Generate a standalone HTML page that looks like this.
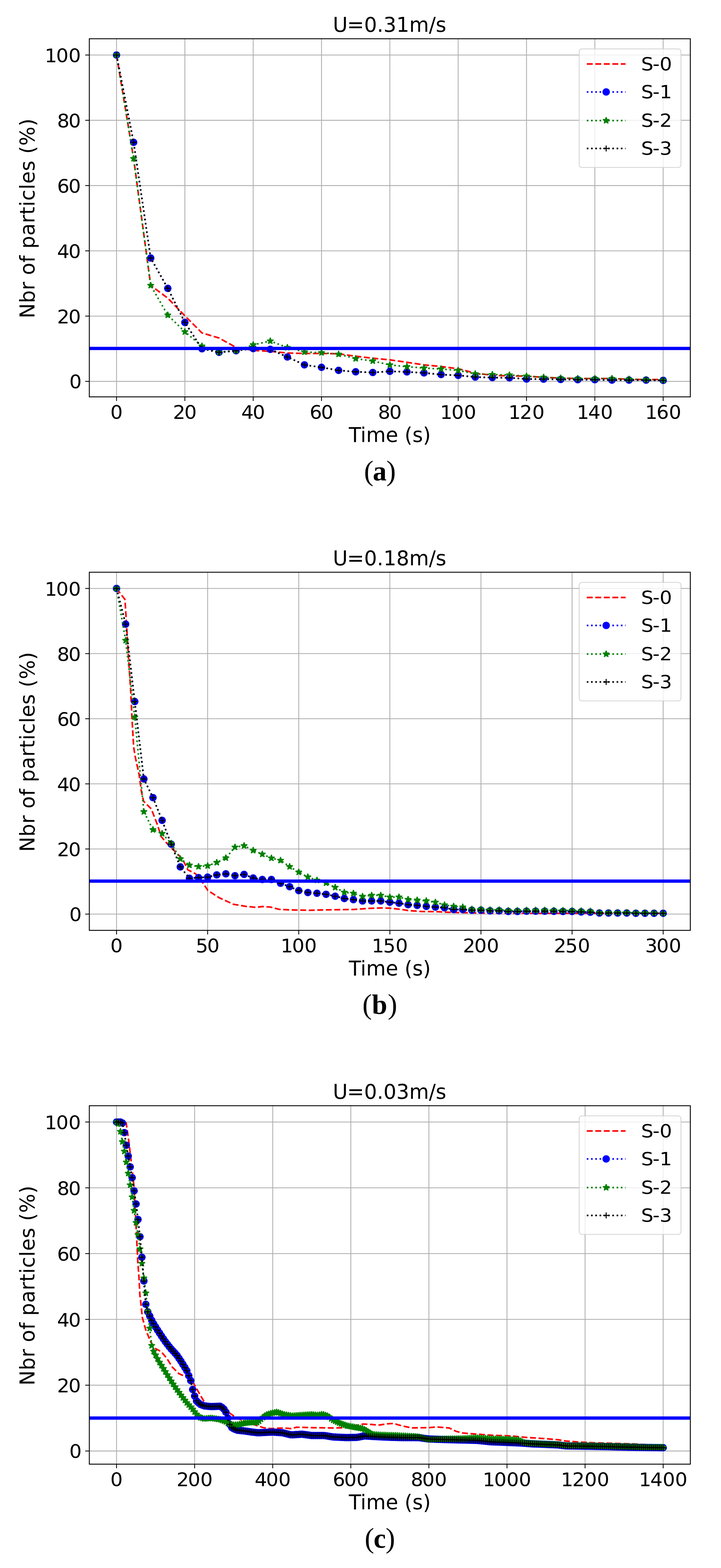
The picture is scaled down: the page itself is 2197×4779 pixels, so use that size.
<!DOCTYPE html>
<html lang="en"><head><meta charset="utf-8"><title>Number of particles versus time</title>
<style>
html,body{margin:0;padding:0;background:#fff;}
body{width:2197px;height:4779px;overflow:hidden;}
svg{display:block;}
text{font-family:"DejaVu Sans","Liberation Sans",sans-serif;fill:#000;}
.tk{font-size:59.3px;}
.lb{font-size:61.4px;}
.tt{font-size:61.7px;}
.lg{font-size:59.3px;}
.cap{font-family:"Liberation Serif","DejaVu Serif",serif;font-size:86.7px;}
.cap .b{font-weight:bold;font-size:84px;}
.grid line{stroke:#b0b0b0;stroke-width:2.6;}
.ticks line{stroke:#000;stroke-width:2.5;}
.spine{fill:none;stroke:#000;stroke-width:2.7;stroke-linejoin:miter;}
.ln{fill:none;stroke-width:4.9;stroke-linejoin:round;}
.dash{stroke-dasharray:18.13 7.84;}
.dot{stroke-dasharray:4.9 8.085;}
.s0{stroke:#ff0000;}.s1{stroke:#0000ff;}.s2{stroke:#008000;}.s3{stroke:#000;}
.m1{fill:#0000ff;}
.m2{fill:#008000;stroke:#008000;stroke-width:3;stroke-linejoin:bevel;}
.m3{stroke:#000;stroke-width:3.1;fill:none;}
.k1{marker:url(#mc);}.k2{marker:url(#ms);}.k3{marker:url(#mp);}
.j1{marker-mid:url(#mc);}.j2{marker-mid:url(#ms);}.j3{marker-mid:url(#mp);}
.hl{stroke:#0000ff;stroke-width:10;}
.legbox{fill:#fff;fill-opacity:0.8;stroke:#ccc;stroke-opacity:0.8;stroke-width:2.6;}
</style></head><body>
<svg width="2197" height="4779" viewBox="0 0 2197 4779" role="img" aria-label="Number of particles versus time for three velocities">
<rect x="0" y="0" width="2197" height="4779" fill="#fff"/>
<defs>
<marker id="mc" markerUnits="userSpaceOnUse" markerWidth="40" markerHeight="40" refX="20" refY="20" viewBox="0 0 40 40" orient="0" overflow="visible"><circle cx="20" cy="20" r="11.3" class="m1"/></marker>
<marker id="ms" markerUnits="userSpaceOnUse" markerWidth="40" markerHeight="40" refX="20" refY="20" viewBox="0 0 40 40" orient="0" overflow="visible"><polygon points="20,9.8 22.29,16.848 29.701,16.848 23.705,21.204 25.995,28.252 20,23.896 14.005,28.252 16.295,21.204 10.299,16.848 17.71,16.848" class="m2"/></marker>
<marker id="mp" markerUnits="userSpaceOnUse" markerWidth="40" markerHeight="40" refX="20" refY="20" viewBox="0 0 40 40" orient="0" overflow="visible"><path d="M10.9 20H29.1M20 10.9V29.1" class="m3"/></marker>
</defs>
<g class="fig" id="fig-a">
<clipPath id="clip0"><rect x="272.15" y="118.1" width="1831.35" height="1091.5"/></clipPath>
<g class="grid">
<line x1="355.1" y1="118.1" x2="355.1" y2="1209.6"/>
<line x1="563.312" y1="118.1" x2="563.312" y2="1209.6"/>
<line x1="771.525" y1="118.1" x2="771.525" y2="1209.6"/>
<line x1="979.737" y1="118.1" x2="979.737" y2="1209.6"/>
<line x1="1187.95" y1="118.1" x2="1187.95" y2="1209.6"/>
<line x1="1396.162" y1="118.1" x2="1396.162" y2="1209.6"/>
<line x1="1604.375" y1="118.1" x2="1604.375" y2="1209.6"/>
<line x1="1812.588" y1="118.1" x2="1812.588" y2="1209.6"/>
<line x1="2020.8" y1="118.1" x2="2020.8" y2="1209.6"/>
<line x1="272.15" y1="1162.4" x2="2103.5" y2="1162.4"/>
<line x1="272.15" y1="963.46" x2="2103.5" y2="963.46"/>
<line x1="272.15" y1="764.52" x2="2103.5" y2="764.52"/>
<line x1="272.15" y1="565.58" x2="2103.5" y2="565.58"/>
<line x1="272.15" y1="366.64" x2="2103.5" y2="366.64"/>
<line x1="272.15" y1="167.7" x2="2103.5" y2="167.7"/>
</g>
<g class="ticks">
<line x1="355.1" y1="1209.6" x2="355.1" y2="1222.1"/>
<line x1="563.312" y1="1209.6" x2="563.312" y2="1222.1"/>
<line x1="771.525" y1="1209.6" x2="771.525" y2="1222.1"/>
<line x1="979.737" y1="1209.6" x2="979.737" y2="1222.1"/>
<line x1="1187.95" y1="1209.6" x2="1187.95" y2="1222.1"/>
<line x1="1396.162" y1="1209.6" x2="1396.162" y2="1222.1"/>
<line x1="1604.375" y1="1209.6" x2="1604.375" y2="1222.1"/>
<line x1="1812.588" y1="1209.6" x2="1812.588" y2="1222.1"/>
<line x1="2020.8" y1="1209.6" x2="2020.8" y2="1222.1"/>
<line x1="259.65" y1="1162.4" x2="272.15" y2="1162.4"/>
<line x1="259.65" y1="963.46" x2="272.15" y2="963.46"/>
<line x1="259.65" y1="764.52" x2="272.15" y2="764.52"/>
<line x1="259.65" y1="565.58" x2="272.15" y2="565.58"/>
<line x1="259.65" y1="366.64" x2="272.15" y2="366.64"/>
<line x1="259.65" y1="167.7" x2="272.15" y2="167.7"/>
</g>
<g class="tk" text-anchor="middle">
<text transform="translate(355.1 1276.7) scale(1 0.955)">0</text>
<text dx="0 -3" transform="translate(563.312 1276.7) scale(1 0.955)">20</text>
<text dx="0 -3" transform="translate(771.525 1276.7) scale(1 0.955)">40</text>
<text dx="0 -3" transform="translate(979.737 1276.7) scale(1 0.955)">60</text>
<text dx="0 -3" transform="translate(1187.95 1276.7) scale(1 0.955)">80</text>
<text dx="0 -3" transform="translate(1396.162 1276.7) scale(1 0.955)">100</text>
<text dx="0 -3" transform="translate(1604.375 1276.7) scale(1 0.955)">120</text>
<text dx="0 -3" transform="translate(1812.588 1276.7) scale(1 0.955)">140</text>
<text dx="0 -3" transform="translate(2020.8 1276.7) scale(1 0.955)">160</text>
</g>
<g class="tk" text-anchor="end">
<text transform="translate(249.1 1184) scale(1 0.955)">0</text>
<text dx="0 -3" transform="translate(246.4 986.06) scale(1 0.955)">20</text>
<text dx="0 -3" transform="translate(246.4 787.12) scale(1 0.955)">40</text>
<text dx="0 -3" transform="translate(246.4 588.18) scale(1 0.955)">60</text>
<text dx="0 -3" transform="translate(246.4 389.24) scale(1 0.955)">80</text>
<text dx="0 -3" transform="translate(246.4 190.3) scale(1 0.955)">100</text>
</g>
<g clip-path="url(#clip0)">
<polyline class="ln dash s0" points="355.1,167.7 407.153,483.02 459.206,869.958 511.259,908.752 563.312,962.465 615.366,1014.687 667.419,1030.105 719.472,1058.951 771.525,1067.904 823.578,1070.888 875.631,1075.861 927.684,1077.353 979.737,1077.353 1031.791,1078.248 1083.844,1085.808 1135.897,1091.776 1187.95,1096.75 1240.003,1104.21 1292.056,1112.068 1344.109,1117.141 1396.162,1123.905 1448.216,1137.533 1500.269,1143.7 1552.322,1145.789 1604.375,1146.485 1656.428,1149.966 1708.481,1152.354 1760.534,1153.647 1812.588,1153.647 1864.641,1153.647 1916.694,1155.736 1968.747,1157.029 2020.8,1156.432"/>
<polyline class="ln dot s1 k1" points="355.1,167.7 407.153,433.882 459.206,786.403 511.259,878.911 563.312,982.658 615.366,1062.93 667.419,1073.872 719.472,1068.898 771.525,1062.433 823.578,1064.72 875.631,1087.996 927.684,1112.068 979.737,1119.628 1031.791,1128.879 1083.844,1133.156 1135.897,1135.245 1187.95,1131.664 1240.003,1133.554 1292.056,1136.538 1344.109,1141.611 1396.162,1144.098 1448.216,1149.17 1500.269,1150.861 1552.322,1151.458 1604.375,1155.139 1656.428,1155.437 1708.481,1156.432 1760.534,1157.228 1812.588,1157.228 1864.641,1158.521 1916.694,1158.521 1968.747,1158.521 2020.8,1159.316"/>
<polyline class="ln dot s2 k2" points="355.1,167.7 407.153,483.318 459.206,869.958 511.259,960.476 563.312,1011.206 615.366,1054.972 667.419,1073.872 719.472,1068.898 771.525,1050.994 823.578,1039.356 875.631,1059.25 927.684,1072.778 979.737,1074.866 1031.791,1079.541 1083.844,1093.069 1135.897,1100.231 1187.95,1112.168 1240.003,1117.639 1292.056,1121.717 1344.109,1124.701 1396.162,1128.879 1448.216,1139.522 1500.269,1141.611 1552.322,1142.904 1604.375,1146.485 1656.428,1149.966 1708.481,1152.354 1760.534,1153.647 1812.588,1153.647 1864.641,1153.647 1916.694,1155.736 1968.747,1157.029 2020.8,1158.919"/>
<polyline class="ln dot s3 k3" points="355.1,167.7 407.153,433.882 459.206,786.403 511.259,878.911 563.312,982.658 615.366,1062.93 667.419,1073.872 719.472,1068.898 771.525,1062.433 823.578,1064.72 875.631,1087.996 927.684,1112.068 979.737,1119.628 1031.791,1128.879 1083.844,1133.156 1135.897,1135.245 1187.95,1131.664 1240.003,1133.554 1292.056,1136.538 1344.109,1141.611 1396.162,1144.098 1448.216,1149.17 1500.269,1150.861 1552.322,1151.458 1604.375,1155.139 1656.428,1155.437 1708.481,1156.432 1760.534,1157.228 1812.588,1157.228 1864.641,1158.521 1916.694,1158.521 1968.747,1158.521 2020.8,1159.316"/>
<line class="hl" x1="272.15" y1="1061.9" x2="2103.5" y2="1061.9"/>
</g>
<rect class="spine" x="272.15" y="118.1" width="1831.35" height="1091.5"/>
<rect class="legbox" x="1765" y="149.1" width="310" height="361.2" rx="8" ry="8"/>
<polyline class="ln dash s0" points="1788,195 1847.1,195 1906.2,195"/>
<text class="lg" dx="0 -2.5" transform="translate(1953.6 213.8) scale(1 0.94)">S-0</text>
<polyline class="ln dot s1 j1" points="1788,280.3 1847.1,280.3 1906.2,280.3"/>
<text class="lg" dx="0 -2.5" transform="translate(1953.6 299.1) scale(1 0.94)">S-1</text>
<polyline class="ln dot s2 j2" points="1788,367.5 1847.1,367.5 1906.2,367.5"/>
<text class="lg" dx="0 -2.5" transform="translate(1953.6 386.3) scale(1 0.94)">S-2</text>
<polyline class="ln dot s3 j3" points="1788,452.5 1847.1,452.5 1906.2,452.5"/>
<text class="lg" dx="0 -2.5" transform="translate(1953.6 471.3) scale(1 0.94)">S-3</text>
<text class="tt" text-anchor="middle" dx="0 -1.6" x="1187.1" y="97.3">U=0.31m/s</text>
<text class="lb" text-anchor="middle" x="1187.8" y="1347.2">Time (s)</text>
<text class="lb" text-anchor="middle" textLength="609" lengthAdjust="spacing" transform="translate(104.9 665.85) rotate(-90)">Nbr of particles (%)</text>
</g>
<text class="cap" y="1464"><tspan x="1109.26">(</tspan><tspan class="b" x="1136">a</tspan><tspan x="1177.23">)</tspan></text>
<g class="fig" id="fig-b">
<clipPath id="clip1"><rect x="272.15" y="1744.05" width="1831.35" height="1091.55"/></clipPath>
<g class="grid">
<line x1="355.1" y1="1744.05" x2="355.1" y2="2835.6"/>
<line x1="632.717" y1="1744.05" x2="632.717" y2="2835.6"/>
<line x1="910.333" y1="1744.05" x2="910.333" y2="2835.6"/>
<line x1="1187.95" y1="1744.05" x2="1187.95" y2="2835.6"/>
<line x1="1465.567" y1="1744.05" x2="1465.567" y2="2835.6"/>
<line x1="1743.183" y1="1744.05" x2="1743.183" y2="2835.6"/>
<line x1="2020.8" y1="1744.05" x2="2020.8" y2="2835.6"/>
<line x1="272.15" y1="2786.06" x2="2103.5" y2="2786.06"/>
<line x1="272.15" y1="2587.56" x2="2103.5" y2="2587.56"/>
<line x1="272.15" y1="2389.06" x2="2103.5" y2="2389.06"/>
<line x1="272.15" y1="2190.56" x2="2103.5" y2="2190.56"/>
<line x1="272.15" y1="1992.06" x2="2103.5" y2="1992.06"/>
<line x1="272.15" y1="1793.56" x2="2103.5" y2="1793.56"/>
</g>
<g class="ticks">
<line x1="355.1" y1="2835.6" x2="355.1" y2="2848.1"/>
<line x1="632.717" y1="2835.6" x2="632.717" y2="2848.1"/>
<line x1="910.333" y1="2835.6" x2="910.333" y2="2848.1"/>
<line x1="1187.95" y1="2835.6" x2="1187.95" y2="2848.1"/>
<line x1="1465.567" y1="2835.6" x2="1465.567" y2="2848.1"/>
<line x1="1743.183" y1="2835.6" x2="1743.183" y2="2848.1"/>
<line x1="2020.8" y1="2835.6" x2="2020.8" y2="2848.1"/>
<line x1="259.65" y1="2786.06" x2="272.15" y2="2786.06"/>
<line x1="259.65" y1="2587.56" x2="272.15" y2="2587.56"/>
<line x1="259.65" y1="2389.06" x2="272.15" y2="2389.06"/>
<line x1="259.65" y1="2190.56" x2="272.15" y2="2190.56"/>
<line x1="259.65" y1="1992.06" x2="272.15" y2="1992.06"/>
<line x1="259.65" y1="1793.56" x2="272.15" y2="1793.56"/>
</g>
<g class="tk" text-anchor="middle">
<text transform="translate(355.1 2902.7) scale(1 0.955)">0</text>
<text dx="0 -3" transform="translate(632.717 2902.7) scale(1 0.955)">50</text>
<text dx="0 -3" transform="translate(910.333 2902.7) scale(1 0.955)">100</text>
<text dx="0 -3" transform="translate(1187.95 2902.7) scale(1 0.955)">150</text>
<text dx="0 -3" transform="translate(1465.567 2902.7) scale(1 0.955)">200</text>
<text dx="0 -3" transform="translate(1743.183 2902.7) scale(1 0.955)">250</text>
<text dx="0 -3" transform="translate(2020.8 2902.7) scale(1 0.955)">300</text>
</g>
<g class="tk" text-anchor="end">
<text transform="translate(249.1 2807.66) scale(1 0.955)">0</text>
<text dx="0 -3" transform="translate(246.4 2610.16) scale(1 0.955)">20</text>
<text dx="0 -3" transform="translate(246.4 2411.66) scale(1 0.955)">40</text>
<text dx="0 -3" transform="translate(246.4 2213.16) scale(1 0.955)">60</text>
<text dx="0 -3" transform="translate(246.4 2014.66) scale(1 0.955)">80</text>
<text dx="0 -3" transform="translate(246.4 1816.16) scale(1 0.955)">100</text>
</g>
<g clip-path="url(#clip1)">
<polyline class="ln dash s0" points="355.1,1793.56 380.672,1827.005 384.472,1884.011 390.806,1992.194 397.9,2099.364 402.207,2190.573 407.274,2276.714 412.095,2306.757 423.919,2360.811 430.676,2411.486 437.433,2441.892 461.082,2465.541 477.974,2509.459 491.487,2550 508.379,2570.27 528.65,2590.541 555.677,2617.568 572.569,2651.351 596.218,2663.176 616.488,2688.514 633.38,2713.851 667.164,2735.811 711.083,2756.081 751.624,2762.838 765.34,2763.818 780.003,2765.541 799.124,2762.973 824.462,2764.662 849.8,2771.419 883.584,2773.108 942.706,2774.375 993.382,2773.108 1077.842,2771.841 1120.072,2768.885 1162.302,2767.196 1187.64,2768.041 1212.978,2770.574 1240.005,2774.375 1242.235,2775.135 1284.465,2778.091 1326.695,2778.514 1368.925,2780.625 1411.155,2781.47 1466.054,2782.736 1537.845,2783.581 1700.008,2783.581 2020.8,2783.579"/>
<polyline class="ln dot s1 k1" points="355.1,1793.56 382.862,1902.239 410.623,2138.156 438.385,2374.172 466.147,2431.043 493.908,2500.22 521.67,2572.97 549.432,2642.148 577.193,2676.885 604.955,2674.9 632.717,2673.312 660.478,2666.563 688.24,2663.188 716.002,2668.945 743.763,2664.975 771.525,2675.992 799.287,2680.557 827.048,2680.557 854.81,2692.07 882.572,2702.591 910.333,2714.401 938.095,2720.356 965.857,2722.54 993.618,2725.815 1021.38,2731.472 1049.142,2738.42 1076.903,2741.894 1104.665,2746.062 1132.427,2746.062 1160.188,2746.062 1187.95,2749.834 1215.712,2752.811 1243.473,2757.377 1271.235,2759.461 1298.997,2762.438 1326.758,2764.622 1354.52,2766.706 1382.282,2772.165 1410.043,2772.165 1437.805,2774.249 1465.567,2774.249 1493.328,2776.135 1521.09,2776.135 1548.852,2778.12 1576.613,2778.12 1604.375,2777.227 1632.137,2777.227 1659.898,2777.227 1687.66,2777.624 1715.422,2778.12 1743.183,2778.12 1770.945,2779.41 1798.707,2780.204 1826.468,2782.785 1854.23,2782.785 1881.992,2782.785 1909.753,2782.785 1937.515,2783.579 1965.277,2783.579 1993.038,2783.579 2020.8,2783.579"/>
<polyline class="ln dot s2 k2" points="355.1,1793.56 382.862,1951.864 410.623,2185.597 438.385,2474.018 466.147,2529.003 493.908,2540.515 521.67,2570.291 549.432,2617.633 577.193,2636.788 604.955,2641.155 632.717,2638.872 660.478,2628.749 688.24,2614.854 716.002,2582.101 743.763,2577.635 771.525,2592.026 799.287,2603.44 827.048,2615.35 854.81,2622.298 882.572,2641.354 910.333,2658.226 938.095,2673.014 965.857,2682.84 993.618,2691.177 1021.38,2704.675 1049.142,2719.562 1076.903,2722.54 1104.665,2732.167 1132.427,2728.793 1160.188,2728.793 1187.95,2734.45 1215.712,2734.152 1243.473,2741.398 1271.235,2743.482 1298.997,2745.566 1326.758,2749.834 1354.52,2758.27 1382.282,2762.438 1410.043,2764.622 1437.805,2771.272 1465.567,2771.272 1493.328,2773.157 1521.09,2773.157 1548.852,2775.142 1576.613,2775.142 1604.375,2774.249 1632.137,2774.249 1659.898,2774.249 1687.66,2774.646 1715.422,2775.142 1743.183,2775.142 1770.945,2776.433 1798.707,2777.227 1826.468,2781.296 1854.23,2781.296 1881.992,2781.296 1909.753,2781.296 1937.515,2782.09 1965.277,2782.09 1993.038,2782.09 2020.8,2783.579"/>
<polyline class="ln dot s3 k3" points="355.1,1793.56 382.862,1902.239 410.623,2138.156 438.385,2374.172 466.147,2431.043 493.908,2500.22 521.67,2572.97 549.432,2642.148 577.193,2676.885 604.955,2674.9 632.717,2673.312 660.478,2666.563 688.24,2663.188 716.002,2668.945 743.763,2664.975 771.525,2675.992 799.287,2680.557 827.048,2680.557 854.81,2692.07 882.572,2702.591 910.333,2714.401 938.095,2720.356 965.857,2722.54 993.618,2725.815 1021.38,2731.472 1049.142,2738.42 1076.903,2741.894 1104.665,2746.062 1132.427,2746.062 1160.188,2746.062 1187.95,2749.834 1215.712,2752.811 1243.473,2757.377 1271.235,2759.461 1298.997,2762.438 1326.758,2764.622 1354.52,2766.706 1382.282,2772.165 1410.043,2772.165 1437.805,2774.249 1465.567,2774.249 1493.328,2776.135 1521.09,2776.135 1548.852,2778.12 1576.613,2778.12 1604.375,2777.227 1632.137,2777.227 1659.898,2777.227 1687.66,2777.624 1715.422,2778.12 1743.183,2778.12 1770.945,2779.41 1798.707,2780.204 1826.468,2782.785 1854.23,2782.785 1881.992,2782.785 1909.753,2782.785 1937.515,2783.579 1965.277,2783.579 1993.038,2783.579 2020.8,2783.579"/>
<line class="hl" x1="272.15" y1="2685.5" x2="2103.5" y2="2685.5"/>
</g>
<rect class="spine" x="272.15" y="1744.05" width="1831.35" height="1091.55"/>
<rect class="legbox" x="1765" y="1775.05" width="310" height="361.2" rx="8" ry="8"/>
<polyline class="ln dash s0" points="1788,1820.95 1847.1,1820.95 1906.2,1820.95"/>
<text class="lg" dx="0 -2.5" transform="translate(1953.6 1839.75) scale(1 0.94)">S-0</text>
<polyline class="ln dot s1 j1" points="1788,1906.25 1847.1,1906.25 1906.2,1906.25"/>
<text class="lg" dx="0 -2.5" transform="translate(1953.6 1925.05) scale(1 0.94)">S-1</text>
<polyline class="ln dot s2 j2" points="1788,1993.45 1847.1,1993.45 1906.2,1993.45"/>
<text class="lg" dx="0 -2.5" transform="translate(1953.6 2012.25) scale(1 0.94)">S-2</text>
<polyline class="ln dot s3 j3" points="1788,2078.45 1847.1,2078.45 1906.2,2078.45"/>
<text class="lg" dx="0 -2.5" transform="translate(1953.6 2097.25) scale(1 0.94)">S-3</text>
<text class="tt" text-anchor="middle" dx="0 -1.6" x="1187.1" y="1723.25">U=0.18m/s</text>
<text class="lb" text-anchor="middle" x="1187.8" y="2973.2">Time (s)</text>
<text class="lb" text-anchor="middle" textLength="609" lengthAdjust="spacing" transform="translate(104.9 2291.825) rotate(-90)">Nbr of particles (%)</text>
</g>
<text class="cap" y="3090.15"><tspan x="1104.36">(</tspan><tspan class="b" x="1133.2">b</tspan><tspan x="1181.38">)</tspan></text>
<g class="fig" id="fig-c">
<clipPath id="clip2"><rect x="272.15" y="3370.05" width="1831.35" height="1092.45"/></clipPath>
<g class="grid">
<line x1="355.1" y1="3370.05" x2="355.1" y2="4462.5"/>
<line x1="593.057" y1="3370.05" x2="593.057" y2="4462.5"/>
<line x1="831.014" y1="3370.05" x2="831.014" y2="4462.5"/>
<line x1="1068.971" y1="3370.05" x2="1068.971" y2="4462.5"/>
<line x1="1306.929" y1="3370.05" x2="1306.929" y2="4462.5"/>
<line x1="1544.886" y1="3370.05" x2="1544.886" y2="4462.5"/>
<line x1="1782.843" y1="3370.05" x2="1782.843" y2="4462.5"/>
<line x1="2020.8" y1="3370.05" x2="2020.8" y2="4462.5"/>
<line x1="272.15" y1="4422.4" x2="2103.5" y2="4422.4"/>
<line x1="272.15" y1="4221.86" x2="2103.5" y2="4221.86"/>
<line x1="272.15" y1="4021.32" x2="2103.5" y2="4021.32"/>
<line x1="272.15" y1="3820.78" x2="2103.5" y2="3820.78"/>
<line x1="272.15" y1="3620.24" x2="2103.5" y2="3620.24"/>
<line x1="272.15" y1="3419.7" x2="2103.5" y2="3419.7"/>
</g>
<g class="ticks">
<line x1="355.1" y1="4462.5" x2="355.1" y2="4475"/>
<line x1="593.057" y1="4462.5" x2="593.057" y2="4475"/>
<line x1="831.014" y1="4462.5" x2="831.014" y2="4475"/>
<line x1="1068.971" y1="4462.5" x2="1068.971" y2="4475"/>
<line x1="1306.929" y1="4462.5" x2="1306.929" y2="4475"/>
<line x1="1544.886" y1="4462.5" x2="1544.886" y2="4475"/>
<line x1="1782.843" y1="4462.5" x2="1782.843" y2="4475"/>
<line x1="2020.8" y1="4462.5" x2="2020.8" y2="4475"/>
<line x1="259.65" y1="4422.4" x2="272.15" y2="4422.4"/>
<line x1="259.65" y1="4221.86" x2="272.15" y2="4221.86"/>
<line x1="259.65" y1="4021.32" x2="272.15" y2="4021.32"/>
<line x1="259.65" y1="3820.78" x2="272.15" y2="3820.78"/>
<line x1="259.65" y1="3620.24" x2="272.15" y2="3620.24"/>
<line x1="259.65" y1="3419.7" x2="272.15" y2="3419.7"/>
</g>
<g class="tk" text-anchor="middle">
<text transform="translate(355.1 4529.6) scale(1 0.955)">0</text>
<text dx="0 -3" transform="translate(593.057 4529.6) scale(1 0.955)">200</text>
<text dx="0 -3" transform="translate(831.014 4529.6) scale(1 0.955)">400</text>
<text dx="0 -3" transform="translate(1068.971 4529.6) scale(1 0.955)">600</text>
<text dx="0 -3" transform="translate(1306.929 4529.6) scale(1 0.955)">800</text>
<text dx="0 -3" transform="translate(1544.886 4529.6) scale(1 0.955)">1000</text>
<text dx="0 -3" transform="translate(1782.843 4529.6) scale(1 0.955)">1200</text>
<text dx="0 -3" transform="translate(2020.8 4529.6) scale(1 0.955)">1400</text>
</g>
<g class="tk" text-anchor="end">
<text transform="translate(249.1 4444) scale(1 0.955)">0</text>
<text dx="0 -3" transform="translate(246.4 4244.46) scale(1 0.955)">20</text>
<text dx="0 -3" transform="translate(246.4 4043.92) scale(1 0.955)">40</text>
<text dx="0 -3" transform="translate(246.4 3843.38) scale(1 0.955)">60</text>
<text dx="0 -3" transform="translate(246.4 3642.84) scale(1 0.955)">80</text>
<text dx="0 -3" transform="translate(246.4 3442.3) scale(1 0.955)">100</text>
</g>
<g clip-path="url(#clip2)">
<polyline class="ln dash s0" points="355.1,3419.7 378.896,3419.7 384.488,3422.909 390.794,3465.824 397.099,3516.962 403.524,3572.11 408.521,3618.235 411.02,3668.37 414.827,3744.575 417.445,3795.712 419.943,3845.847 423.751,3896.985 426.249,3947.12 428.748,3967.174 433.745,4015.304 443.858,4052.404 459.087,4089.504 472.651,4109.558 491.211,4119.585 508.106,4139.639 525.001,4166.711 545.228,4186.765 565.573,4195.79 579.018,4203.811 590.916,4217.849 606.145,4244.922 619.589,4267.984 636.484,4285.03 697.282,4305.084 714.177,4317.117 737.854,4329.149 785.327,4345.693 802.221,4351.208 823.4,4354.216 865.518,4352.211 886.696,4354.216 903.591,4349.905 949.993,4351.208 1013.052,4352.211 1055.646,4351.208 1080.869,4345.693 1106.331,4340.179 1131.673,4341.482 1152.732,4343.588 1182.239,4339.376 1199.134,4338.474 1224.476,4345.693 1254.578,4352.01 1305.739,4351.208 1330.724,4349.203 1368.797,4352.211 1390.214,4362.639 1411.154,4367.653 1453.272,4371.062 1495.629,4374.27 1559.163,4376.577 1600.806,4380.788 1664.578,4384.999 1699.558,4387.907 1724.543,4392.118 1766.186,4395.127 1809.018,4397.332 1893.493,4399.739 1935.135,4401.042 1961.311,4402.747 2020.8,4407.359"/>
<polyline class="ln dot s1 k1" points="355.1,3419.7 361.049,3419.7 366.998,3419.7 372.947,3422.708 378.896,3452.087 384.845,3490.591 390.794,3523.479 396.743,3556.468 402.691,3589.357 408.64,3629.465 414.589,3669.473 420.538,3716.8 426.487,3769.341 432.436,3832.111 438.385,3904.305 444.334,3975.196 450.283,3998.258 456.232,4011.113 462.181,4023.968 468.13,4034.63 474.079,4044.163 480.028,4053.696 485.976,4062.739 491.925,4071.675 497.874,4080.611 503.823,4089.034 509.772,4096.75 515.721,4104.466 521.67,4111.445 527.619,4117.933 533.568,4124.421 539.517,4131.355 545.466,4140.075 551.415,4148.794 557.364,4158.245 563.312,4167.778 569.261,4177.644 575.21,4192.733 581.159,4207.822 587.108,4234.895 593.057,4254.949 599.006,4269.99 604.955,4275.687 610.904,4280.554 616.853,4282.792 622.802,4285.03 628.751,4285.62 634.7,4286.21 640.649,4286.8 646.598,4286.905 652.546,4286.687 658.495,4286.469 664.444,4286.251 670.393,4286.033 676.342,4289.572 682.291,4294.826 688.24,4304.081 694.189,4322.13 700.138,4341.181 706.087,4350.791 712.036,4354.575 717.985,4356.902 723.934,4359.23 729.882,4359.82 735.831,4360.41 741.78,4360.999 747.729,4361.766 753.678,4362.651 759.627,4363.536 765.576,4364.392 771.525,4365.132 777.474,4365.873 783.423,4366.613 789.372,4366.664 795.321,4366.39 801.27,4366.116 807.219,4365.841 813.168,4365.567 819.116,4365.293 825.065,4365.019 831.014,4364.745 836.963,4365.166 842.912,4365.587 848.861,4366.008 854.81,4366.429 860.759,4366.85 866.708,4368.309 872.657,4369.767 878.606,4371.226 884.555,4372.684 890.504,4373.053 896.452,4372.695 902.401,4372.337 908.35,4371.979 914.299,4371.62 920.248,4371.262 926.197,4372.064 932.146,4372.867 938.095,4373.669 944.044,4374.471 949.993,4375.273 955.942,4375.273 961.891,4375.273 967.84,4375.273 973.789,4375.273 979.737,4375.273 985.686,4375.273 991.635,4375.875 997.584,4376.877 1003.533,4377.88 1009.482,4378.883 1015.431,4379.601 1021.38,4379.894 1027.329,4380.186 1033.278,4380.479 1039.227,4380.771 1045.176,4381.064 1051.125,4381.356 1057.074,4381.561 1063.023,4381.418 1068.971,4381.275 1074.92,4381.132 1080.869,4380.988 1086.818,4380.845 1092.767,4380.069 1098.716,4378.872 1104.665,4377.674 1110.614,4376.476 1116.563,4376.837 1122.512,4377.198 1128.461,4377.559 1134.41,4377.92 1140.359,4378.281 1146.307,4378.568 1152.256,4378.854 1158.205,4379.141 1164.154,4379.427 1170.103,4379.714 1176.052,4380 1182.001,4380.287 1187.95,4380.468 1193.899,4380.649 1199.848,4380.83 1205.797,4381.011 1211.746,4381.192 1217.695,4381.373 1223.644,4381.554 1229.592,4381.59 1235.541,4381.59 1241.49,4381.59 1247.439,4381.59 1253.388,4381.59 1259.337,4381.59 1265.286,4381.59 1271.235,4381.59 1277.184,4381.759 1283.133,4382.601 1289.082,4383.443 1295.031,4384.285 1300.98,4385.128 1306.929,4385.841 1312.878,4386.04 1318.826,4386.238 1324.775,4386.437 1330.724,4386.636 1336.673,4386.834 1342.622,4387.033 1348.571,4387.232 1354.52,4387.43 1360.469,4387.629 1366.418,4387.828 1372.367,4387.996 1378.316,4388.144 1384.265,4388.293 1390.214,4388.441 1396.162,4388.589 1402.111,4388.738 1408.06,4388.886 1414.009,4389.034 1419.958,4389.182 1425.907,4389.331 1431.856,4389.479 1437.805,4389.627 1443.754,4389.776 1449.703,4389.924 1455.652,4390.255 1461.601,4390.861 1467.55,4391.466 1473.499,4392.072 1479.447,4392.677 1485.396,4393.283 1491.345,4393.888 1497.294,4394.39 1503.243,4394.623 1509.192,4394.856 1515.141,4395.089 1521.09,4395.322 1527.039,4395.555 1532.988,4395.788 1538.937,4396.021 1544.886,4396.254 1550.835,4396.487 1556.784,4396.72 1562.733,4396.953 1568.681,4397.186 1574.63,4397.419 1580.579,4397.667 1586.528,4398.092 1592.477,4398.517 1598.426,4398.942 1604.375,4399.367 1610.324,4399.792 1616.273,4400.217 1622.222,4400.641 1628.171,4400.888 1634.12,4401.135 1640.069,4401.382 1646.017,4401.629 1651.966,4401.876 1657.915,4402.122 1663.864,4402.369 1669.813,4402.616 1675.762,4402.863 1681.711,4403.11 1687.66,4403.356 1693.609,4403.603 1699.558,4403.85 1705.507,4404.59 1711.456,4405.33 1717.405,4406.07 1723.354,4406.81 1729.302,4407.024 1735.251,4407.106 1741.2,4407.188 1747.149,4407.269 1753.098,4407.351 1759.047,4407.433 1764.996,4407.515 1770.945,4407.597 1776.894,4407.679 1782.843,4407.761 1788.792,4407.875 1794.741,4407.989 1800.69,4408.104 1806.639,4408.218 1812.588,4408.332 1818.536,4408.447 1824.485,4408.561 1830.434,4408.675 1836.383,4408.79 1842.332,4408.904 1848.281,4409.018 1854.23,4409.153 1860.179,4409.301 1866.128,4409.45 1872.077,4409.598 1878.026,4409.746 1883.975,4409.894 1889.924,4410.043 1895.872,4410.191 1901.821,4410.339 1907.77,4410.488 1913.719,4410.636 1919.668,4410.784 1925.617,4410.933 1931.566,4411.081 1937.515,4411.203 1943.464,4411.287 1949.413,4411.37 1955.362,4411.454 1961.311,4411.537 1967.26,4411.621 1973.209,4411.705 1979.157,4411.788 1985.106,4411.872 1991.055,4411.955 1997.004,4412.039 2002.953,4412.122 2008.902,4412.206 2014.851,4412.289 2020.8,4412.373"/>
<polyline class="ln dot s2 k2" points="355.1,3419.7 361.049,3424.713 366.998,3448.778 372.947,3479.862 378.896,3508.94 384.845,3542.029 390.794,3576.121 396.743,3611.717 402.691,3648.316 408.64,3689.426 414.589,3726.526 420.538,3763.626 426.487,3806.742 432.436,3850.861 438.385,3895.481 444.334,3941.104 450.283,3996.252 456.232,4048.393 462.181,4101.035 468.13,4118.709 474.079,4130.007 480.028,4141.305 485.976,4152.144 491.925,4161.677 497.874,4171.21 503.823,4180.771 509.772,4190.371 515.721,4199.971 521.67,4209.29 527.619,4218.422 533.568,4227.554 539.517,4235.881 545.466,4244.006 551.415,4252.131 557.364,4259.934 563.312,4267.702 569.261,4275.392 575.21,4281.878 581.159,4288.364 587.108,4295.094 593.057,4302.796 599.006,4310.499 604.955,4316.253 610.904,4321.002 616.853,4322.569 622.802,4324.135 628.751,4323.546 634.7,4322.956 640.649,4322.366 646.598,4322.679 652.546,4323.595 658.495,4324.51 664.444,4325.426 670.393,4326.341 676.342,4328.526 682.291,4330.71 688.24,4333.239 694.189,4337.145 700.138,4340.02 706.087,4341.779 712.036,4343.141 717.985,4342.913 723.934,4342.685 729.882,4341.152 735.831,4339.618 741.78,4338.085 747.729,4337.064 753.678,4336.386 759.627,4335.708 765.576,4335.165 771.525,4335.165 777.474,4335.165 783.423,4335.165 789.372,4331.166 795.321,4325.285 801.27,4320.033 807.219,4315.202 813.168,4311.587 819.116,4309.797 825.065,4308.006 831.014,4306.56 836.963,4305.342 842.912,4304.124 848.861,4305.574 854.81,4307.691 860.759,4309.808 866.708,4311.702 872.657,4312.705 878.606,4313.707 884.555,4314.71 890.504,4315.713 896.452,4315.225 902.401,4314.738 908.35,4314.25 914.299,4313.763 920.248,4313.355 926.197,4312.984 932.146,4312.614 938.095,4312.243 944.044,4311.872 949.993,4311.501 955.942,4312.253 961.891,4313.005 967.84,4313.392 973.789,4312.318 979.737,4311.244 985.686,4311.409 991.635,4313.435 997.584,4315.461 1003.533,4318.968 1009.482,4324.078 1015.431,4328.258 1021.38,4331.043 1027.329,4333.828 1033.278,4336.613 1039.227,4338.953 1045.176,4341.181 1051.125,4343.41 1057.074,4345.421 1063.023,4346.567 1068.971,4347.713 1074.92,4348.859 1080.869,4349.919 1086.818,4350.942 1092.767,4351.965 1098.716,4352.989 1104.665,4354.012 1110.614,4357.101 1116.563,4360.706 1122.512,4364.312 1128.461,4367.926 1134.41,4371.542 1140.359,4372.582 1146.307,4372.979 1152.256,4373.375 1158.205,4373.771 1164.154,4374.061 1170.103,4374.245 1176.052,4374.429 1182.001,4374.612 1187.95,4374.796 1193.899,4374.979 1199.848,4375.163 1205.797,4375.401 1211.746,4375.721 1217.695,4376.041 1223.644,4376.361 1229.592,4376.681 1235.541,4377.001 1241.49,4377.321 1247.439,4377.641 1253.388,4377.961 1259.337,4378.281 1265.286,4378.711 1271.235,4379.141 1277.184,4379.797 1283.133,4381.361 1289.082,4382.926 1295.031,4384.49 1300.98,4386.054 1306.929,4387.277 1312.878,4387.135 1318.826,4386.993 1324.775,4386.851 1330.724,4386.71 1336.673,4386.568 1342.622,4386.426 1348.571,4386.284 1354.52,4386.142 1360.469,4386 1366.418,4385.858 1372.367,4385.733 1378.316,4385.618 1384.265,4385.504 1390.214,4385.389 1396.162,4385.274 1402.111,4385.16 1408.06,4385.045 1414.009,4384.782 1419.958,4384.42 1425.907,4384.058 1431.856,4383.696 1437.805,4383.334 1443.754,4382.972 1449.703,4382.61 1455.652,4382.587 1461.601,4383.074 1467.55,4383.561 1473.499,4384.048 1479.447,4384.535 1485.396,4385.022 1491.345,4385.509 1497.294,4385.852 1503.243,4385.977 1509.192,4386.102 1515.141,4386.228 1521.09,4386.353 1527.039,4386.478 1532.988,4386.604 1538.937,4386.774 1544.886,4387.122 1550.835,4387.47 1556.784,4387.818 1562.733,4388.166 1568.681,4388.514 1574.63,4388.862 1580.579,4389.211 1586.528,4391.894 1592.477,4394.578 1598.426,4397.262 1604.375,4398.534 1610.324,4398.865 1616.273,4399.196 1622.222,4399.527 1628.171,4399.858 1634.12,4400.189 1640.069,4400.52 1646.017,4400.851 1651.966,4401.182 1657.915,4401.514 1663.864,4401.845 1669.813,4401.995 1675.762,4402.145 1681.711,4402.296 1687.66,4402.446 1693.609,4402.597 1699.558,4402.747 1705.507,4403.607 1711.456,4404.466 1717.405,4405.325 1723.354,4406.185 1729.302,4406.357 1735.251,4406.357 1741.2,4406.357 1747.149,4406.357 1753.098,4406.357 1759.047,4406.357 1764.996,4406.357 1770.945,4406.357 1776.894,4406.357 1782.843,4406.357 1788.792,4406.489 1794.741,4406.621 1800.69,4406.753 1806.639,4406.885 1812.588,4407.016 1818.536,4407.148 1824.485,4407.28 1830.434,4407.412 1836.383,4407.544 1842.332,4407.676 1848.281,4407.808 1854.23,4407.946 1860.179,4408.087 1866.128,4408.228 1872.077,4408.369 1878.026,4408.51 1883.975,4408.652 1889.924,4408.793 1895.872,4408.934 1901.821,4409.075 1907.77,4409.217 1913.719,4409.358 1919.668,4409.499 1925.617,4409.64 1931.566,4409.782 1937.515,4410.003 1943.464,4410.345 1949.413,4410.687 1955.362,4411.028 1961.311,4411.37 1967.26,4411.37 1973.209,4411.37 1979.157,4411.37 1985.106,4411.37 1991.055,4411.37 1997.004,4411.37 2002.953,4411.37 2008.902,4411.37 2014.851,4411.37 2020.8,4411.37"/>
<polyline class="ln dot s3 k3" points="355.1,3419.7 361.049,3419.7 366.998,3419.7 372.947,3422.708 378.896,3452.087 384.845,3490.591 390.794,3523.479 396.743,3556.468 402.691,3589.357 408.64,3629.465 414.589,3669.473 420.538,3716.8 426.487,3769.341 432.436,3832.111 438.385,3904.305 444.334,3975.196 450.283,3998.258 456.232,4011.113 462.181,4023.968 468.13,4034.63 474.079,4044.163 480.028,4053.696 485.976,4062.739 491.925,4071.675 497.874,4080.611 503.823,4089.034 509.772,4096.75 515.721,4104.466 521.67,4111.445 527.619,4117.933 533.568,4124.421 539.517,4131.355 545.466,4140.075 551.415,4148.794 557.364,4158.245 563.312,4167.778 569.261,4177.644 575.21,4192.733 581.159,4207.822 587.108,4234.895 593.057,4254.949 599.006,4269.99 604.955,4275.687 610.904,4280.554 616.853,4282.792 622.802,4285.03 628.751,4285.62 634.7,4286.21 640.649,4286.8 646.598,4286.905 652.546,4286.687 658.495,4286.469 664.444,4286.251 670.393,4286.033 676.342,4289.572 682.291,4294.826 688.24,4304.081 694.189,4322.13 700.138,4341.181 706.087,4350.791 712.036,4354.575 717.985,4356.902 723.934,4359.23 729.882,4359.82 735.831,4360.41 741.78,4360.999 747.729,4361.766 753.678,4362.651 759.627,4363.536 765.576,4364.392 771.525,4365.132 777.474,4365.873 783.423,4366.613 789.372,4366.664 795.321,4366.39 801.27,4366.116 807.219,4365.841 813.168,4365.567 819.116,4365.293 825.065,4365.019 831.014,4364.745 836.963,4365.166 842.912,4365.587 848.861,4366.008 854.81,4366.429 860.759,4366.85 866.708,4368.309 872.657,4369.767 878.606,4371.226 884.555,4372.684 890.504,4373.053 896.452,4372.695 902.401,4372.337 908.35,4371.979 914.299,4371.62 920.248,4371.262 926.197,4372.064 932.146,4372.867 938.095,4373.669 944.044,4374.471 949.993,4375.273 955.942,4375.273 961.891,4375.273 967.84,4375.273 973.789,4375.273 979.737,4375.273 985.686,4375.273 991.635,4375.875 997.584,4376.877 1003.533,4377.88 1009.482,4378.883 1015.431,4379.601 1021.38,4379.894 1027.329,4380.186 1033.278,4380.479 1039.227,4380.771 1045.176,4381.064 1051.125,4381.356 1057.074,4381.561 1063.023,4381.418 1068.971,4381.275 1074.92,4381.132 1080.869,4380.988 1086.818,4380.845 1092.767,4380.069 1098.716,4378.872 1104.665,4377.674 1110.614,4376.476 1116.563,4376.837 1122.512,4377.198 1128.461,4377.559 1134.41,4377.92 1140.359,4378.281 1146.307,4378.568 1152.256,4378.854 1158.205,4379.141 1164.154,4379.427 1170.103,4379.714 1176.052,4380 1182.001,4380.287 1187.95,4380.468 1193.899,4380.649 1199.848,4380.83 1205.797,4381.011 1211.746,4381.192 1217.695,4381.373 1223.644,4381.554 1229.592,4381.59 1235.541,4381.59 1241.49,4381.59 1247.439,4381.59 1253.388,4381.59 1259.337,4381.59 1265.286,4381.59 1271.235,4381.59 1277.184,4381.759 1283.133,4382.601 1289.082,4383.443 1295.031,4384.285 1300.98,4385.128 1306.929,4385.841 1312.878,4386.04 1318.826,4386.238 1324.775,4386.437 1330.724,4386.636 1336.673,4386.834 1342.622,4387.033 1348.571,4387.232 1354.52,4387.43 1360.469,4387.629 1366.418,4387.828 1372.367,4387.996 1378.316,4388.144 1384.265,4388.293 1390.214,4388.441 1396.162,4388.589 1402.111,4388.738 1408.06,4388.886 1414.009,4389.034 1419.958,4389.182 1425.907,4389.331 1431.856,4389.479 1437.805,4389.627 1443.754,4389.776 1449.703,4389.924 1455.652,4390.255 1461.601,4390.861 1467.55,4391.466 1473.499,4392.072 1479.447,4392.677 1485.396,4393.283 1491.345,4393.888 1497.294,4394.39 1503.243,4394.623 1509.192,4394.856 1515.141,4395.089 1521.09,4395.322 1527.039,4395.555 1532.988,4395.788 1538.937,4396.021 1544.886,4396.254 1550.835,4396.487 1556.784,4396.72 1562.733,4396.953 1568.681,4397.186 1574.63,4397.419 1580.579,4397.667 1586.528,4398.092 1592.477,4398.517 1598.426,4398.942 1604.375,4399.367 1610.324,4399.792 1616.273,4400.217 1622.222,4400.641 1628.171,4400.888 1634.12,4401.135 1640.069,4401.382 1646.017,4401.629 1651.966,4401.876 1657.915,4402.122 1663.864,4402.369 1669.813,4402.616 1675.762,4402.863 1681.711,4403.11 1687.66,4403.356 1693.609,4403.603 1699.558,4403.85 1705.507,4404.59 1711.456,4405.33 1717.405,4406.07 1723.354,4406.81 1729.302,4407.024 1735.251,4407.106 1741.2,4407.188 1747.149,4407.269 1753.098,4407.351 1759.047,4407.433 1764.996,4407.515 1770.945,4407.597 1776.894,4407.679 1782.843,4407.761 1788.792,4407.875 1794.741,4407.989 1800.69,4408.104 1806.639,4408.218 1812.588,4408.332 1818.536,4408.447 1824.485,4408.561 1830.434,4408.675 1836.383,4408.79 1842.332,4408.904 1848.281,4409.018 1854.23,4409.153 1860.179,4409.301 1866.128,4409.45 1872.077,4409.598 1878.026,4409.746 1883.975,4409.894 1889.924,4410.043 1895.872,4410.191 1901.821,4410.339 1907.77,4410.488 1913.719,4410.636 1919.668,4410.784 1925.617,4410.933 1931.566,4411.081 1937.515,4411.203 1943.464,4411.287 1949.413,4411.37 1955.362,4411.454 1961.311,4411.537 1967.26,4411.621 1973.209,4411.705 1979.157,4411.788 1985.106,4411.872 1991.055,4411.955 1997.004,4412.039 2002.953,4412.122 2008.902,4412.206 2014.851,4412.289 2020.8,4412.373"/>
<line class="hl" x1="272.15" y1="4321.9" x2="2103.5" y2="4321.9"/>
</g>
<rect class="spine" x="272.15" y="3370.05" width="1831.35" height="1092.45"/>
<rect class="legbox" x="1765" y="3401.05" width="310" height="361.2" rx="8" ry="8"/>
<polyline class="ln dash s0" points="1788,3446.95 1847.1,3446.95 1906.2,3446.95"/>
<text class="lg" dx="0 -2.5" transform="translate(1953.6 3465.75) scale(1 0.94)">S-0</text>
<polyline class="ln dot s1 j1" points="1788,3532.25 1847.1,3532.25 1906.2,3532.25"/>
<text class="lg" dx="0 -2.5" transform="translate(1953.6 3551.05) scale(1 0.94)">S-1</text>
<polyline class="ln dot s2 j2" points="1788,3619.45 1847.1,3619.45 1906.2,3619.45"/>
<text class="lg" dx="0 -2.5" transform="translate(1953.6 3638.25) scale(1 0.94)">S-2</text>
<polyline class="ln dot s3 j3" points="1788,3704.45 1847.1,3704.45 1906.2,3704.45"/>
<text class="lg" dx="0 -2.5" transform="translate(1953.6 3723.25) scale(1 0.94)">S-3</text>
<text class="tt" text-anchor="middle" dx="0 -1.6" x="1187.1" y="3349.25">U=0.03m/s</text>
<text class="lb" text-anchor="middle" x="1187.8" y="4600.1">Time (s)</text>
<text class="lb" text-anchor="middle" textLength="609" lengthAdjust="spacing" transform="translate(104.9 3918.275) rotate(-90)">Nbr of particles (%)</text>
</g>
<text class="cap" y="4716.9"><tspan x="1111.31">(</tspan><tspan class="b" x="1138.5">c</tspan><tspan x="1175.08">)</tspan></text>
</svg>
</body></html>
